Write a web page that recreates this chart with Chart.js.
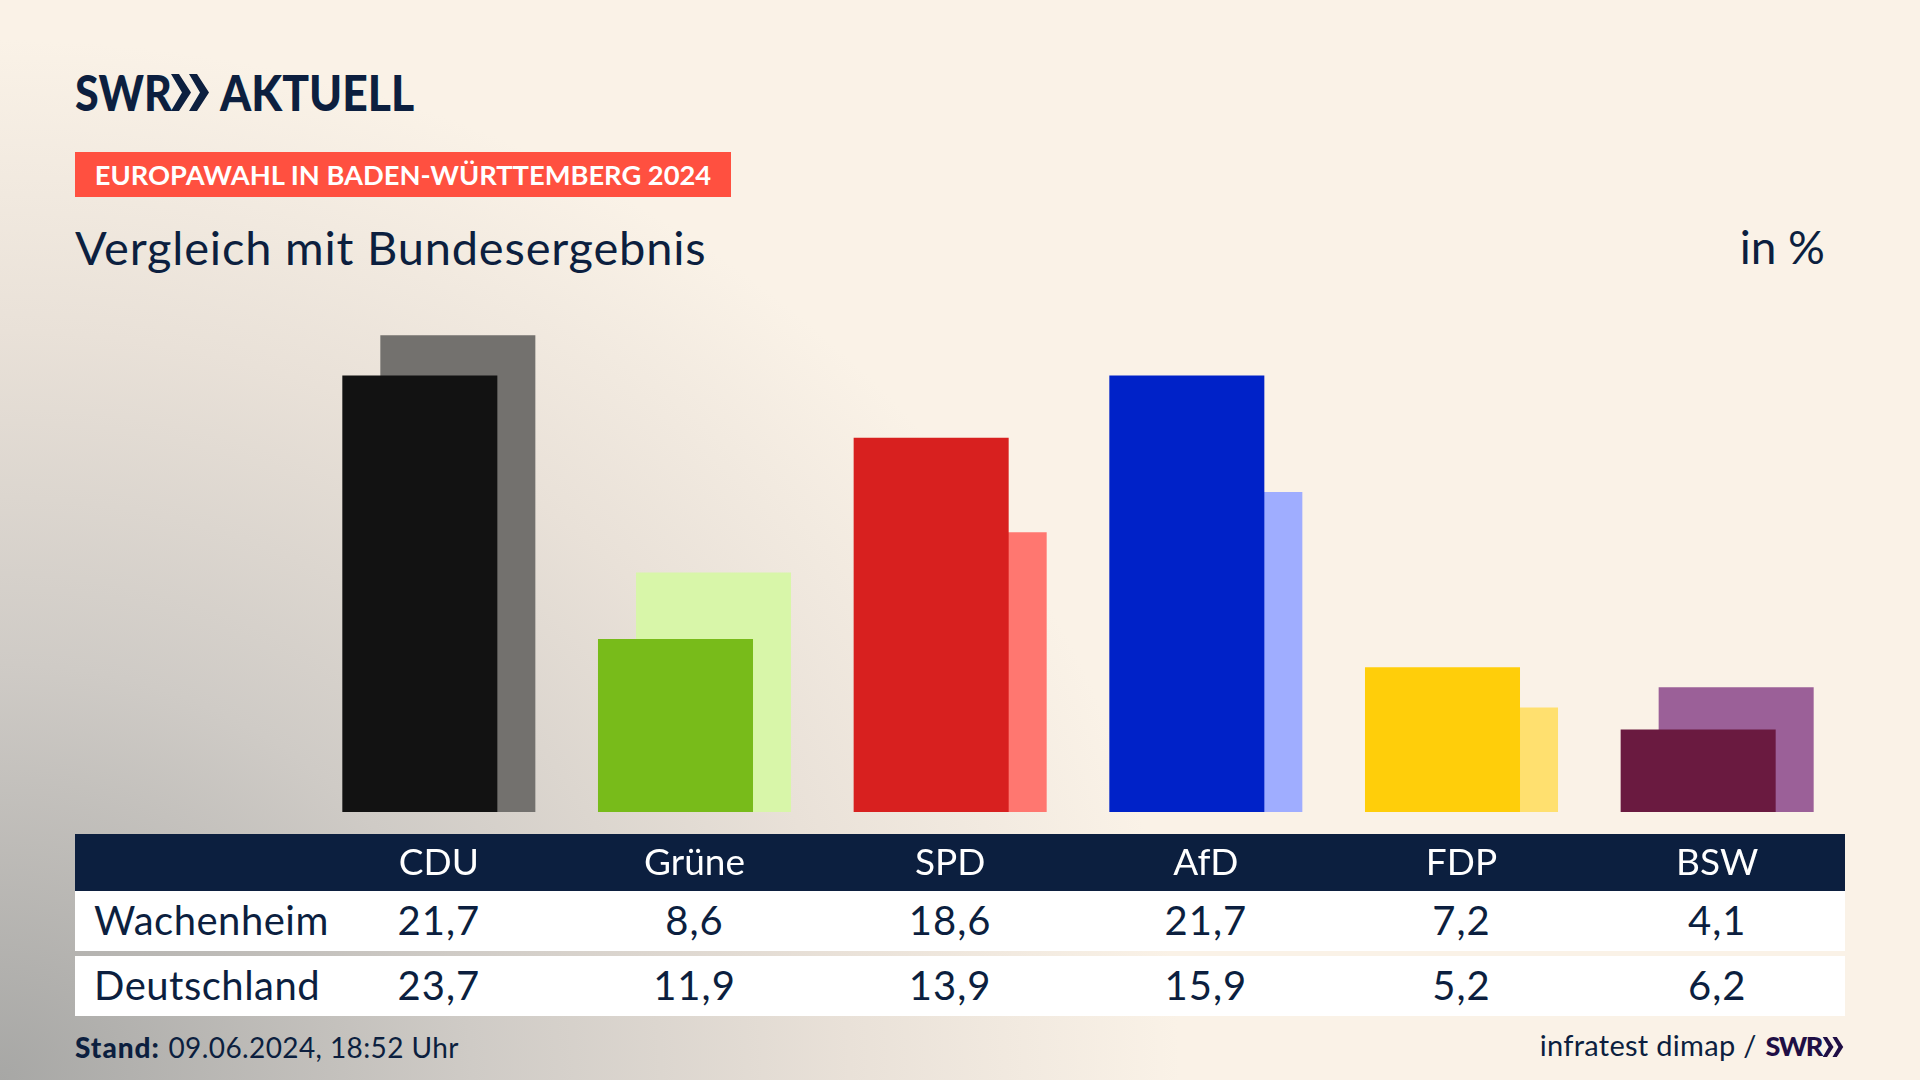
<!DOCTYPE html>
<html lang="de">
<head>
    <meta charset="UTF-8">
    <title>Europawahl in Baden-Württemberg 2024</title>
    <script src="https://cdn.jsdelivr.net/npm/chart.js"></script>
    <style>
        html, body { margin: 0; padding: 0; }
        body {
            width: 1920px;
            height: 1080px;
            position: relative;
            overflow: hidden;
            font-family: Lato, sans-serif;
            color: #0c1f3f;
            background-color: #faf2e7;
            background-image: radial-gradient(ellipse 1180px 1040px at 0 100%, #a7a7a5 0%, #cfcbc6 40%, #e9e1d8 72%, #faf2e7 100%);
        }
        body > * { position: absolute; }
        #logo { left: 75px; top: 62px; font-size: 50px; line-height: 60px; font-weight: 900; white-space: nowrap; }
        #logo svg { position: absolute; top: 12px; left: 96px; }
        #logo span { position: absolute; top: 0; transform-origin: 0 50%; }
        #logo .swr { left: 0; transform: scaleX(0.86); }
        #logo .aktuell { left: 145px; transform: scaleX(0.89); }
        #badge { left: 75px; top: 152px; width: 656px; height: 45px; line-height: 45px; background: #ff5040; color: #fff; font-size: 27.3px; font-weight: 700; text-align: center; white-space: nowrap; }
        #title { left: 75px; top: 219px; font-size: 47px; line-height: 56px; letter-spacing: 0.8px; white-space: nowrap; }
        #unit { right: 95px; top: 219px; font-size: 46px; line-height: 56px; }
        #band { left: 75px; top: 834px; width: 1770px; height: 57px; background: #0c1f3f; }
        #chart { left: 0; top: 0; z-index: 2; }
        .row { left: 75px; width: 1770px; height: 60px; line-height: 58px; background: #fff; display: flex; font-size: 40px; letter-spacing: 1px; }
        .row .label { width: 236px; padding-left: 19px; box-sizing: border-box; letter-spacing: 0.5px; }
        .row .cell { flex: 1; text-align: center; }
        #row0 { top: 891px; }
        #row1 { top: 956px; }
        #stand { left: 75px; top: 1030px; font-size: 28px; line-height: 34px; letter-spacing: 0.4px; white-space: nowrap; }
        #stand b { font-weight: 900; letter-spacing: 1px; margin-right: 1px; }
        #source { right: 76px; top: 1028px; font-size: 29px; line-height: 34px; letter-spacing: 0.3px; white-space: nowrap; }
        #source b { display: inline-block; font-weight: 900; font-size: 27px; color: #1f0f45; letter-spacing: -1.4px; margin-left: 1px; }
    </style>
</head>
<body>
    <div id="logo">
        <span class="swr">SWR</span>
        <svg width="38" height="37" viewBox="0 0 38 37">
            <path d="M0 0H8L20 18.5L8 37H0L11 18.5Z M18 0H26L38 18.5L26 37H18L29 18.5Z" fill="#0c1f3f"/>
        </svg>
        <span class="aktuell">AKTUELL</span>
    </div>
    <div id="badge">EUROPAWAHL IN BADEN-WÜRTTEMBERG 2024</div>
    <div id="title">Vergleich mit Bundesergebnis</div>
    <div id="unit">in %</div>
    <div id="band"></div>
    <canvas id="chart" width="1920" height="1080"></canvas>
    <div class="row" id="row0"></div>
    <div class="row" id="row1"></div>
    <div id="stand"><b>Stand:</b> 09.06.2024, 18:52 Uhr</div>
    <div id="source">infratest dimap / <b>SWR</b><svg width="22" height="20" viewBox="0 0 38 37" style="vertical-align:-1px"><path d="M0 0H8L20 18.5L8 37H0L11 18.5Z M18 0H26L38 18.5L26 37H18L29 18.5Z" fill="#1f0f45"/></svg></div>

    <script>
        const parties = ["CDU", "Grüne", "SPD", "AfD", "FDP", "BSW"];
        const rowNames = ["Wachenheim", "Deutschland"];
        const wachenheim = [21.7, 8.6, 18.6, 21.7, 7.2, 4.1];
        const deutschland = [23.7, 11.9, 13.9, 15.9, 5.2, 6.2];
        const localColors = ["#121212", "#78bb1a", "#d8201f", "#0022c8", "#ffce0a", "#6a1a40"];
        const nationalColors = ["#73716e", "#d8f6a9", "#ff7770", "#9fadff", "#ffe06f", "#9b6098"];

        const fmt = v => v.toFixed(1).replace(".", ",");

        [wachenheim, deutschland].forEach((values, r) => {
            const row = document.getElementById("row" + r);
            const label = document.createElement("div");
            label.className = "label";
            label.textContent = rowNames[r];
            row.appendChild(label);
            values.forEach(v => {
                const cell = document.createElement("div");
                cell.className = "cell";
                cell.textContent = fmt(v);
                row.appendChild(cell);
            });
        });

        // bars overlap: barPercentage > 1 makes each one wider than its slot
        new Chart(document.getElementById("chart"), {
            type: "bar",
            data: {
                labels: parties,
                datasets: [
                    { label: rowNames[0], data: wachenheim, backgroundColor: localColors },
                    { label: rowNames[1], data: deutschland, backgroundColor: nationalColors }
                ]
            },
            options: {
                responsive: false,
                animation: false,
                categoryPercentage: 0.2973,
                barPercentage: 4.079,
                layout: { padding: { left: 311, right: 75, top: 309, bottom: 189 } },
                plugins: { legend: { display: false }, tooltip: { enabled: false } },
                scales: {
                    x: {
                        grid: { display: false, drawTicks: false },
                        border: { display: false },
                        afterFit: scale => { scale.height = 79; },
                        ticks: {
                            color: "#ffffff",
                            padding: 29,
                            autoSkip: false,
                            maxRotation: 0,
                            font: { family: "Lato", size: 37 }
                        }
                    },
                    y: { display: false, min: 0, max: 25 }
                }
            }
        });
    </script>
</body>
</html>
